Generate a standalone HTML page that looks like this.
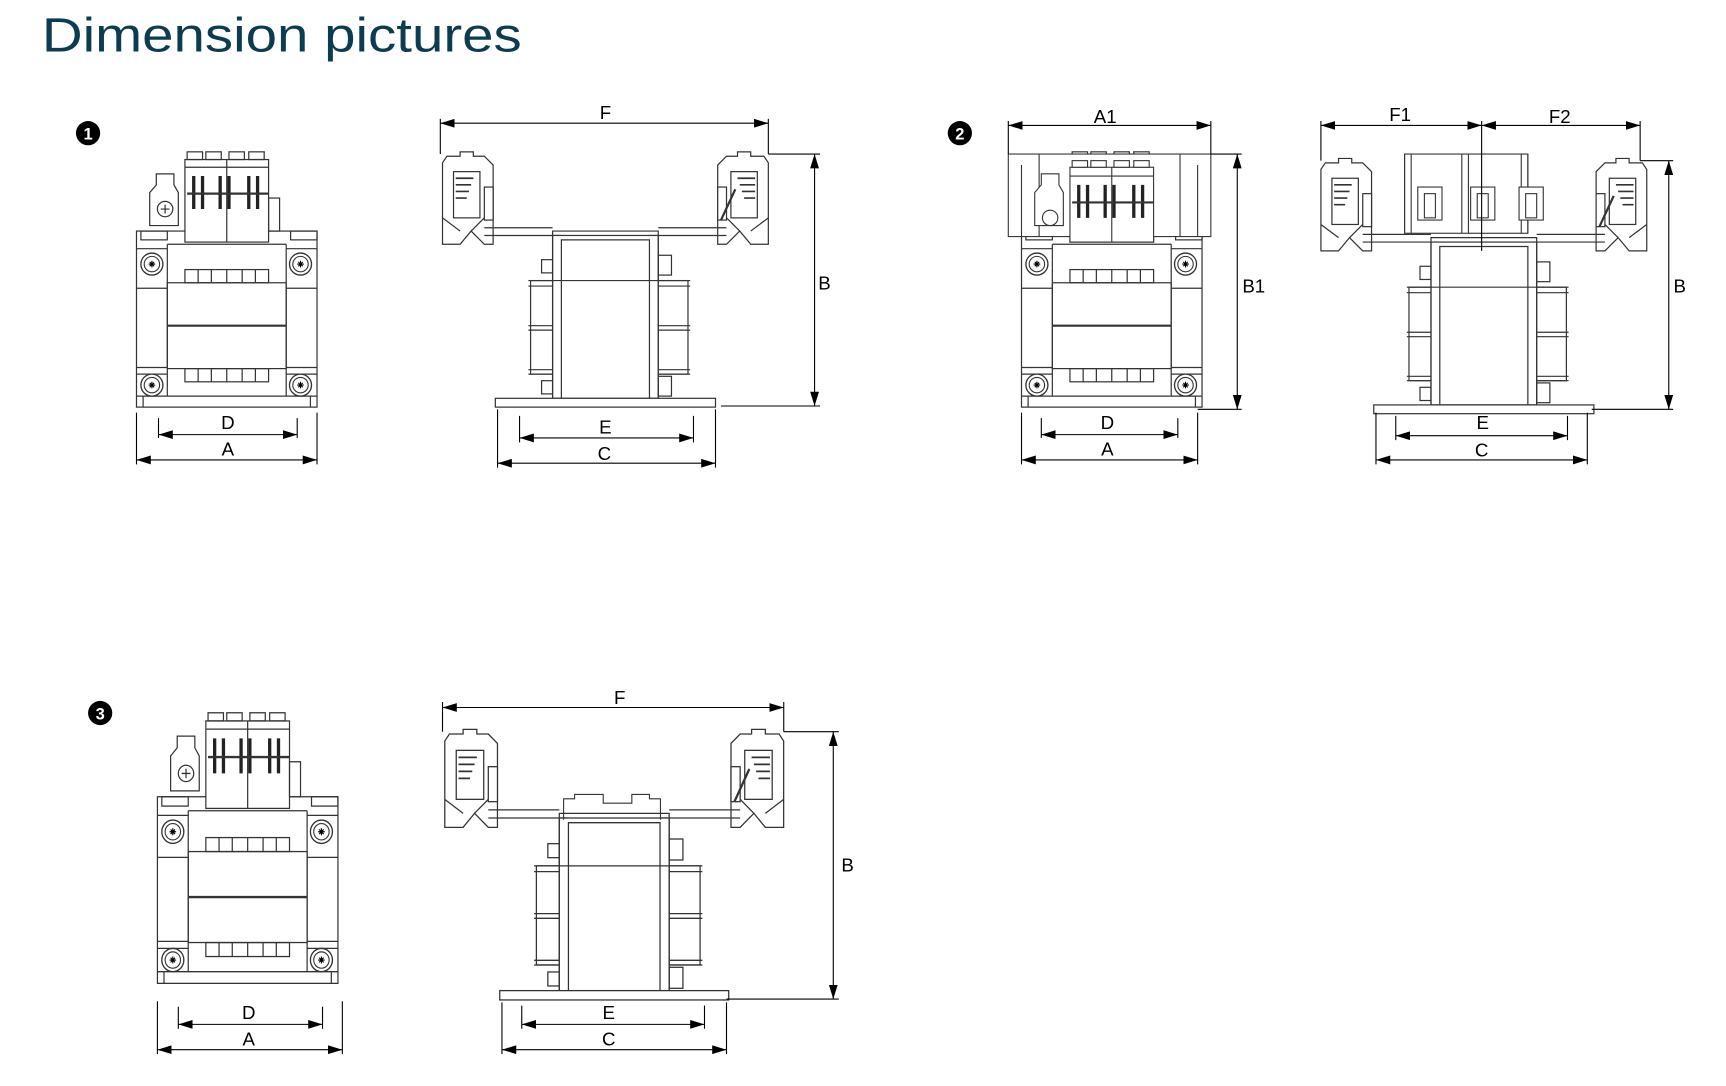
<!DOCTYPE html>
<html><head><meta charset="utf-8">
<style>
html,body{margin:0;padding:0;background:#fff;width:1726px;height:1086px;overflow:hidden}
svg{display:block}
text{font-family:"Liberation Sans",sans-serif}
</style></head><body>
<svg width="1726" height="1086" viewBox="0 0 1568 987" preserveAspectRatio="none" xmlns="http://www.w3.org/2000/svg">
<defs>
<marker id="ah" markerWidth="14" markerHeight="8" refX="13" refY="4" orient="auto-start-reverse" markerUnits="userSpaceOnUse">
<path d="M0,0 L13,4 L0,8 Z" fill="#000"/>
</marker>
<g id="screw">
<circle r="10" fill="#fff" stroke="#333" stroke-width="1.2"/>
<circle r="7" fill="none" stroke="#333" stroke-width="1"/>
<path d="M-3,0H3M0,-3V3M-2,-2L2,2M-2,2L2,-2" stroke="#000" stroke-width="1"/>
</g>
<g id="front" fill="none" stroke="#333" stroke-width="1.1">
<rect x="124" y="210" width="164" height="160"/>
<rect x="128" y="210" width="24" height="8"/>
<rect x="264" y="210" width="24" height="8"/>
<path d="M152,222V360M260,222V360M152,222H260M124,360H288M130,360V370M282,360V370"/>
<path d="M124,226H152M124,262H152M260,226H288M260,262H288M124,334H152M124,340H152M260,334H288M260,340H288"/>
<rect x="168" y="245" width="76" height="12"/>
<path d="M180,245V257M192,245V257M206,245V257M220,245V257M232,245V257"/>
<rect x="168" y="335" width="76" height="12"/>
<path d="M180,335V347M192,335V347M206,335V347M220,335V347M232,335V347"/>
<rect x="152" y="257" width="108" height="78"/>
<path d="M152,296H260" stroke-width="2"/>
<rect x="168" y="145" width="76" height="75" fill="#fff"/>
<path d="M206,145V220M168,152H244"/>
<rect x="170" y="138" width="14" height="7"/><rect x="187" y="138" width="14" height="7"/><rect x="208" y="138" width="14" height="7"/><rect x="226" y="138" width="14" height="7"/>
<path d="M176,160V190M184,160V190M200,160V190M208,160V190M226,160V190M234,160V190" stroke-width="3" stroke="#222"/>
<path d="M170,176H244" stroke-width="2"/>
<rect x="244" y="180" width="10" height="30"/>
<path d="M136,205V175L142,168V158H158V168L162,175V205Z" fill="#fff"/>
<circle cx="150" cy="190" r="7"/>
<path d="M146,190H154M150,186V194"/>
<use href="#screw" x="138" y="240"/><use href="#screw" x="273" y="240"/>
<use href="#screw" x="138" y="350"/><use href="#screw" x="273" y="350"/>
</g>
<g id="clipL" fill="#fff" stroke="#333" stroke-width="1.1">
<path d="M402,222V148L406,142H418V138H430V142H440L448,150V222H440L428,210L418,222Z"/>
<rect x="412" y="156" width="24" height="42"/>
<path d="M414,162H430M414,168H428M414,174H426M414,180H424" stroke-width="1.5"/>
<path d="M402,198L418,210M440,198L428,210"/>
<rect x="440" y="170" width="8" height="30"/>
</g>
<g id="side" fill="none" stroke="#333" stroke-width="1.1">
<use href="#clipL"/>
<use href="#clipL" transform="translate(1100,0) scale(-1,1)"/>
<path d="M655,200L668,172" stroke-width="2"/>
<path d="M440,207H502M598,207H660M440,214H510M590,214H660"/>
<rect x="482" y="255" width="143" height="85"/>
<path d="M480,255H627M480,260H627M480,296H627M480,300H627M480,336H627M480,340H627"/>
<rect x="492" y="236" width="10" height="12"/><rect x="492" y="346" width="10" height="12"/>
<rect x="598" y="232" width="12" height="18"/><rect x="598" y="342" width="12" height="18"/>
<rect x="502" y="214" width="96" height="148" fill="#fff"/>
<path d="M502,362V210H598V362M510,362V218H590V362M502,255H598"/>
<rect x="450" y="362" width="200" height="8" fill="#fff"/>
</g>
</defs>

<text x="38" y="47" font-size="44" fill="#0d3b4f" textLength="436" lengthAdjust="spacingAndGlyphs">Dimension pictures</text>

<circle cx="80" cy="121" r="11" fill="#000"/><text x="80" y="127" font-size="15" fill="#fff" text-anchor="middle" font-weight="bold">1</text>
<circle cx="872" cy="121" r="11" fill="#000"/><text x="872" y="127" font-size="15" fill="#fff" text-anchor="middle" font-weight="bold">2</text>
<circle cx="91" cy="648" r="11" fill="#000"/><text x="91" y="654" font-size="15" fill="#fff" text-anchor="middle" font-weight="bold">3</text>

<!-- FIGURE 1 -->
<use href="#front"/>
<use href="#side"/>
<g stroke="#000" stroke-width="1" fill="none">
<path d="M124,375V422M288,375V422M144,380V398M270,380V398"/>
<path d="M144,395H270" marker-start="url(#ah)" marker-end="url(#ah)"/>
<path d="M124,418H288" marker-start="url(#ah)" marker-end="url(#ah)"/>
<path d="M400,108V140M698,108V140M698,140H745M655,369H745"/>
<path d="M400,112H698" marker-start="url(#ah)" marker-end="url(#ah)"/>
<path d="M740,140V369" marker-start="url(#ah)" marker-end="url(#ah)"/>
<path d="M452,372V425M650,372V425M472,378V402M630,378V402"/>
<path d="M472,398H630" marker-start="url(#ah)" marker-end="url(#ah)"/>
<path d="M452,421H650" marker-start="url(#ah)" marker-end="url(#ah)"/>
</g>
<g font-size="17" text-anchor="middle" fill="#000">
<text x="207" y="390">D</text><text x="207" y="414">A</text>
<text x="550" y="108">F</text><text x="749" y="263">B</text>
<text x="550" y="394">E</text><text x="549" y="418">C</text>
</g>

<!-- FIGURE 2 -->
<g transform="translate(804,0)">
<use href="#front"/>
<rect x="112" y="140" width="184" height="75" fill="#fff" stroke="#333"/>
<path d="M124,215V150M284,215V150M140,140V215M268,140V215" stroke="#333" fill="none"/>
<g transform="translate(-804,0)">
<rect x="972" y="152" width="76" height="68" fill="#fff" stroke="#333"/>
<path d="M1010,152V220M972,160H1048" stroke="#333"/>
<rect x="974" y="146" width="14" height="6" fill="#fff" stroke="#333"/><rect x="991" y="146" width="14" height="6" fill="#fff" stroke="#333"/><rect x="1012" y="146" width="14" height="6" fill="#fff" stroke="#333"/><rect x="1030" y="146" width="14" height="6" fill="#fff" stroke="#333"/>
<path d="M980,168V198M988,168V198M1004,168V198M1012,168V198M1030,168V198M1038,168V198" stroke-width="3" stroke="#222"/>
<path d="M974,184H1048" stroke-width="2" stroke="#333"/>
<path d="M940,205V175L946,168V158H962V168L966,175V205Z" fill="#fff" stroke="#333"/>
<circle cx="954" cy="198" r="7" fill="none" stroke="#333"/>
</g>
</g>
<g transform="translate(798,6)"><use href="#side"/></g>
<g fill="#fff" stroke="#333" stroke-width="1">
<rect x="1276" y="140" width="112" height="72"/>
<path d="M1276,140V212M1282,140V212M1328,140V212M1334,140V212M1382,140V212M1388,140V212"/>
<rect x="1288" y="170" width="22" height="30"/><rect x="1294" y="176" width="10" height="22"/>
<rect x="1336" y="170" width="22" height="30"/><rect x="1342" y="176" width="10" height="22"/>
<rect x="1380" y="170" width="22" height="30"/><rect x="1386" y="176" width="10" height="22"/>
</g>
<g stroke="#000" stroke-width="1" fill="none">
<path d="M928,375V422M1088,375V422M946,380V398M1070,380V398"/>
<path d="M946,395H1070" marker-start="url(#ah)" marker-end="url(#ah)"/>
<path d="M928,418H1088" marker-start="url(#ah)" marker-end="url(#ah)"/>
<path d="M916,110V140M1100,110V140M1100,140H1128M1088,372H1128"/>
<path d="M916,114H1100" marker-start="url(#ah)" marker-end="url(#ah)"/>
<path d="M1124,140V372" marker-start="url(#ah)" marker-end="url(#ah)"/>
<path d="M1200,110V146M1490,110V146M1346,110V228M1490,146H1520M1446,372H1520"/>
<path d="M1200,114H1346" marker-start="url(#ah)" marker-end="url(#ah)"/>
<path d="M1346,114H1490" marker-start="url(#ah)" marker-end="url(#ah)"/>
<path d="M1516,146V372" marker-start="url(#ah)" marker-end="url(#ah)"/>
<path d="M1250,375V422M1442,375V422M1268,378V400M1424,378V400"/>
<path d="M1268,396H1424" marker-start="url(#ah)" marker-end="url(#ah)"/>
<path d="M1250,418H1442" marker-start="url(#ah)" marker-end="url(#ah)"/>
</g>
<g font-size="17" text-anchor="middle" fill="#000">
<text x="1006" y="390">D</text><text x="1006" y="414">A</text>
<text x="1004" y="112">A1</text><text x="1139" y="266">B1</text>
<text x="1272" y="110">F1</text><text x="1417" y="112">F2</text>
<text x="1526" y="266">B</text>
<text x="1347" y="390">E</text><text x="1346" y="415">C</text>
</g>

<!-- FIGURE 3 -->
<g transform="translate(19,510) scale(1,1.06) translate(0,-8)"><use href="#front"/></g>
<g transform="translate(402,665) scale(1.04,1.06) translate(-400,-140)"><use href="#side"/></g>
<path d="M512,745V726H522V722H548V730H574V722H590V726H600V745" fill="none" stroke="#333"/>
<g stroke="#000" stroke-width="1" fill="none">
<path d="M143,910V958M311,910V958M162,915V935M293,915V935"/>
<path d="M162,931H293" marker-start="url(#ah)" marker-end="url(#ah)"/>
<path d="M143,954H311" marker-start="url(#ah)" marker-end="url(#ah)"/>
<path d="M402,638V665M712,638V665M712,665H762M660,908H762"/>
<path d="M402,643H712" marker-start="url(#ah)" marker-end="url(#ah)"/>
<path d="M757,665V908" marker-start="url(#ah)" marker-end="url(#ah)"/>
<path d="M456,911V958M660,911V958M474,914V935M640,914V935"/>
<path d="M474,931H640" marker-start="url(#ah)" marker-end="url(#ah)"/>
<path d="M456,954H660" marker-start="url(#ah)" marker-end="url(#ah)"/>
</g>
<g font-size="17" text-anchor="middle" fill="#000">
<text x="226" y="926">D</text><text x="226" y="950">A</text>
<text x="563" y="640">F</text><text x="770" y="792">B</text>
<text x="553" y="926">E</text><text x="553" y="950">C</text>
</g>
</svg>
</body></html>
